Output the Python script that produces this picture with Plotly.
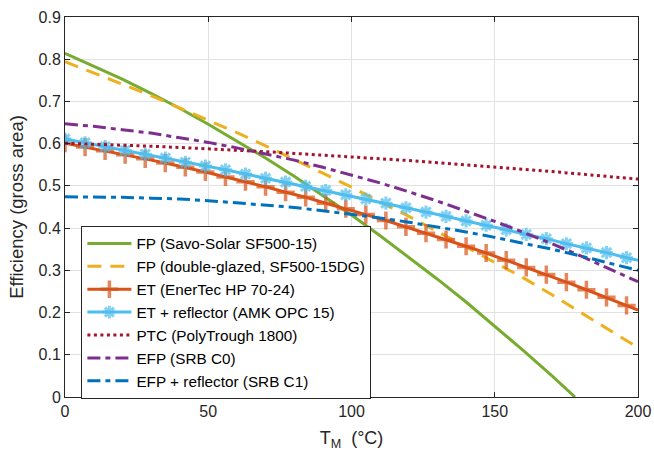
import plotly.graph_objects as go

# ---- data ----
x10 = [0, 10, 20, 30, 40, 50, 60, 70, 80, 90, 100, 110, 120, 130, 140, 150, 160, 170, 180, 190, 200]
x7 = [0, 7, 14, 21, 28, 35, 42, 49, 56, 63, 70, 77, 84, 91, 98, 105, 112, 119, 126, 133, 140,
      147, 154, 161, 168, 175, 182, 189, 196, 200]

x_fp = [0, 10, 20, 30, 40, 50, 60, 70, 80, 90, 100, 110, 120, 130, 140, 150, 160, 170, 178]
fp_savo = [0.814, 0.784, 0.753, 0.719, 0.684, 0.646, 0.607, 0.566, 0.523, 0.478, 0.431,
           0.382, 0.331, 0.279, 0.225, 0.168, 0.110, 0.050, 0.0]
fp_dg = [0.794, 0.768, 0.741, 0.714, 0.685, 0.656, 0.626, 0.595, 0.563, 0.530, 0.497,
         0.463, 0.428, 0.392, 0.355, 0.320, 0.282, 0.242, 0.201, 0.159, 0.117]
et = [0.601, 0.592, 0.583, 0.574, 0.564, 0.554, 0.544, 0.533, 0.521, 0.510, 0.498, 0.485,
      0.473, 0.459, 0.446, 0.432, 0.418, 0.403, 0.388, 0.373, 0.357, 0.341, 0.324, 0.307,
      0.290, 0.272, 0.254, 0.236, 0.217, 0.206]
et_refl = [0.611, 0.602, 0.593, 0.584, 0.575, 0.566, 0.556, 0.547, 0.538, 0.528, 0.518, 0.509,
           0.499, 0.489, 0.479, 0.469, 0.459, 0.448, 0.438, 0.428, 0.417, 0.407, 0.396, 0.385,
           0.375, 0.363, 0.353, 0.342, 0.330, 0.324]
ptc = [0.601, 0.599, 0.596, 0.594, 0.591, 0.588, 0.584, 0.581, 0.577, 0.573, 0.569,
       0.565, 0.560, 0.555, 0.550, 0.545, 0.540, 0.534, 0.528, 0.522, 0.516]
efp = [0.647, 0.641, 0.633, 0.625, 0.614, 0.603, 0.590, 0.576, 0.561, 0.544, 0.526,
       0.507, 0.486, 0.464, 0.440, 0.416, 0.390, 0.363, 0.334, 0.304, 0.273]
efp_refl = [0.474, 0.474, 0.473, 0.471, 0.469, 0.465, 0.460, 0.455, 0.449, 0.441, 0.433,
            0.424, 0.414, 0.403, 0.391, 0.378, 0.364, 0.350, 0.334, 0.317, 0.300]

names = ["FP (Savo-Solar SF500-15)", "FP (double-glazed, SF500-15DG)", "ET (EnerTec HP 70-24)",
         "ET + reflector (AMK OPC 15)", "PTC (PolyTrough 1800)", "EFP (SRB C0)",
         "EFP + reflector (SRB C1)"]

xticks = [0, 50, 100, 150, 200]
yticks = [0, 0.1, 0.2, 0.3, 0.4, 0.5, 0.6, 0.7, 0.8, 0.9]
ytick_text = ["0", "0.1", "0.2", "0.3", "0.4", "0.5", "0.6", "0.7", "0.8", "0.9"]

# ---- figure ----
TXT = "#262626"
FONT = "Liberation Sans, Arial, sans-serif"
LW = 3

fig = go.Figure()
fig.add_trace(go.Scatter(x=x_fp, y=fp_savo, name=names[0], mode="lines",
                         line=dict(color="#77AC30", width=LW)))
fig.add_trace(go.Scatter(x=x10, y=fp_dg, name=names[1], mode="lines",
                         line=dict(color="#EDB120", width=LW, dash="14px,9px")))
msz = [13] * (len(x7) - 1) + [0]
fig.add_trace(go.Scatter(x=x7, y=et, name=names[2], mode="lines+markers",
                         line=dict(color="#D95319", width=LW),
                         marker=dict(symbol="cross-thin-open", size=msz,
                                     line=dict(color="#D95319", width=3.5))))
msz2 = [11] * (len(x7) - 1) + [0]
fig.add_trace(go.Scatter(x=x7, y=et_refl, name=names[3], mode="lines+markers",
                         line=dict(color="#4DBEEE", width=LW),
                         marker=dict(symbol="asterisk-open", size=msz2,
                                     line=dict(color="#4DBEEE", width=3))))
fig.add_trace(go.Scatter(x=x10, y=ptc, name=names[4], mode="lines",
                         line=dict(color="#A2142F", width=LW, dash="3px,3.5px")))
fig.add_trace(go.Scatter(x=x10, y=efp, name=names[5], mode="lines",
                         line=dict(color="#7E2F8E", width=LW, dash="13px,5px,5px,5px")))
fig.add_trace(go.Scatter(x=x10, y=efp_refl, name=names[6], mode="lines",
                         line=dict(color="#0072BD", width=LW, dash="13px,5px,5px,5px")))

axis_common = dict(showline=True, linecolor=TXT, linewidth=1, mirror="allticks",
                   ticks="inside", ticklen=5, tickcolor=TXT, showgrid=True,
                   gridcolor="#e2e2e2", gridwidth=1, zeroline=False, automargin=False,
                   tickfont=dict(family=FONT, size=16, color=TXT))

fig.update_xaxes(range=[0, 200], tickvals=xticks,
                 title=dict(text="T<sub>M</sub>  (°C)", font=dict(family=FONT, size=18, color=TXT),
                            standoff=12),
                 **axis_common)
fig.update_yaxes(range=[0, 0.9], tickvals=yticks, ticktext=ytick_text,
                 title=dict(text="Efficiency (gross area)", font=dict(family=FONT, size=18.5, color=TXT),
                            standoff=10),
                 **axis_common)

fig.update_layout(
    width=654, height=456,
    margin=dict(l=65, r=16, t=17, b=59),
    paper_bgcolor="white", plot_bgcolor="white",
    font=dict(family=FONT, color=TXT),
    showlegend=True,
    legend=dict(x=0.0286, y=0.45, xanchor="left", yanchor="top",
                bgcolor="white", bordercolor=TXT, borderwidth=1,
                font=dict(family=FONT, size=15.3, color="#000000"),
                itemwidth=44, tracegroupgap=0),
)

fig.write_html("out.html", config={"displayModeBar": False},
               post_script="document.body.style.margin='0';document.body.style.overflow='hidden';")
